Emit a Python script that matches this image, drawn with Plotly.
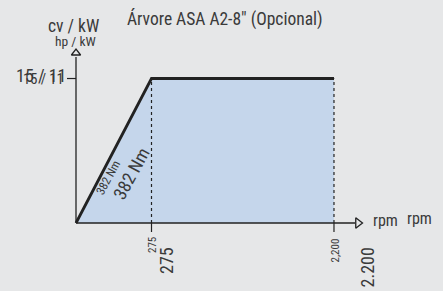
import numpy as np
import plotly.graph_objects as go

# ---- data ----
title = "Árvore ASA A2-8\" (Opcional)"
rpm = [0, 275, 2200]
power = [0, 15, 15]
torque_label = "382 Nm"
x_tick_small = ["275", "2,200"]
x_tick_large = ["275", "2.200"]
y_tick_value = 15
y_tick_label = "15 / 11"
y_unit_large = "cv / kW"
y_unit_small = "hp / kW"
x_unit = "rpm"

# ---- piecewise (non-linear) rpm scale ----
rpm_anchor = [0, 275, 2200]
pos_anchor = [0, 1, 3.417]
def sx(v):
    return float(np.interp(v, rpm_anchor, pos_anchor))

# pixel geometry of the plotting frame
X0, Y0 = 76.0, 223.0          # origin in pixels
KX, KY = 75.5, 9.633          # pixels per x-unit / per power unit
W, H = 443, 291
def P(px, py):
    return (px - X0) / KX, (Y0 - py) / KY

xs = [sx(v) for v in rpm]
FONT = "Roboto Condensed, Roboto, sans-serif"
INK = "#222222"
TXT = "#3a3a3a"

fig = go.Figure()
# filled area
fig.add_trace(go.Scatter(x=xs + [xs[-1], xs[0]], y=power + [0, 0], fill="toself",
                         fillcolor="#c5d6eb", line=dict(width=0), mode="lines", hoverinfo="skip"))
# dotted verticals
for v in rpm[1:]:
    fig.add_trace(go.Scatter(x=[sx(v), sx(v)], y=[0, max(power)], mode="lines",
                             line=dict(color=INK, width=1.2, dash="dot")))
# axes
xe, _ = P(355, 0)
_, ye = P(0, 57)
fig.add_trace(go.Scatter(x=[0, xe], y=[0, 0], mode="lines", line=dict(color=INK, width=1.3)))
fig.add_trace(go.Scatter(x=[0, 0], y=[0, ye], mode="lines", line=dict(color=INK, width=1.3)))
# arrowheads
ax, _ = P(358, 0)
_, ay = P(0, 53)
fig.add_trace(go.Scatter(x=[ax], y=[0], mode="markers",
                         marker=dict(symbol="triangle-right-open", size=9, color=INK, line=dict(width=1.3))))
fig.add_trace(go.Scatter(x=[0], y=[ay], mode="markers",
                         marker=dict(symbol="triangle-up-open", size=8, color=INK, line=dict(width=1.3))))
# ticks
tx, _ = P(67, 0)
fig.add_trace(go.Scatter(x=[tx, 0], y=[y_tick_value, y_tick_value], mode="lines", line=dict(color=INK, width=1.2)))
_, ty = P(0, 232)
for v in rpm[1:]:
    fig.add_trace(go.Scatter(x=[sx(v), sx(v)], y=[0, ty], mode="lines", line=dict(color=INK, width=1.2)))
# power curve
fig.add_trace(go.Scatter(x=xs, y=power, mode="lines", line=dict(color=INK, width=2.8)))

ann = []
def t(px, py, text, size, angle=0):
    x, y = P(px, py)
    ann.append(dict(x=x, y=y, text=text, showarrow=False, textangle=angle,
                    font=dict(family=FONT, size=size, color=TXT), xanchor="center", yanchor="middle"))

t(225, 19, title, 17.5)
t(73.5, 26, y_unit_large, 17.5)
t(75.5, 40.5, y_unit_small, 13.5)
t(41, 75, y_tick_label, 18)
t(43.5, 79.5, y_tick_label, 14.5)
ang = -np.degrees(np.arctan2(57, 31))
t(108, 178, torque_label, 12, ang)
t(131, 173, torque_label, 18, ang)
t(152.5, 245.5, x_tick_small[0], 11, -90)
t(166, 261, x_tick_large[0], 18, -90)
t(334.5, 251, x_tick_small[1], 11, -90)
t(366.5, 268, x_tick_large[1], 18, -90)
t(385, 220.5, x_unit, 16)
t(419.5, 218.5, x_unit, 16)

fig.update_layout(width=W, height=H, margin=dict(l=0, r=0, t=0, b=0),
                  paper_bgcolor="#e6e7e8", plot_bgcolor="#e6e7e8", showlegend=False,
                  annotations=ann,
                  xaxis=dict(range=[-X0 / KX, (W - X0) / KX], visible=False, fixedrange=True),
                  yaxis=dict(range=[-(H - Y0) / KY, Y0 / KY], visible=False, fixedrange=True))
fig.write_html("out.html", config={"displayModeBar": False},
               post_script="document.body.style.margin='0';document.body.style.background='#e6e7e8';")
